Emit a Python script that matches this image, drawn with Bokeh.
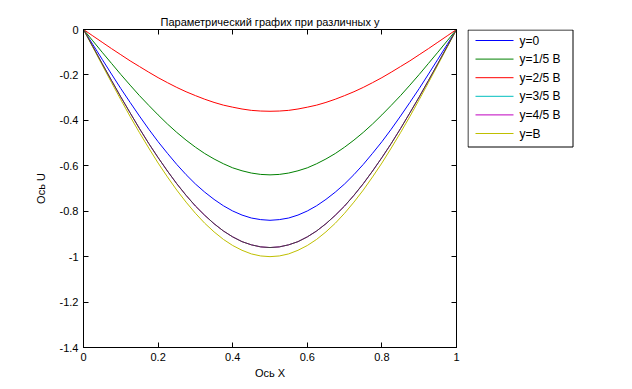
from bokeh.plotting import figure
from bokeh.layouts import row
from bokeh.models import LinearAxis, FixedTicker, Range1d, Title
from bokeh.core.properties import value
from bokeh.embed import file_html
from bokeh.resources import INLINE

x = [0.0, 0.025, 0.05, 0.075, 0.1, 0.125, 0.15, 0.175, 0.2, 0.225, 0.25,
     0.275, 0.3, 0.325, 0.35, 0.375, 0.4, 0.425, 0.45, 0.475, 0.5,
     0.525, 0.55, 0.575, 0.6, 0.625, 0.65, 0.675, 0.7, 0.725, 0.75,
     0.775, 0.8, 0.825, 0.85, 0.875, 0.9, 0.925, 0.95, 0.975, 1.0]

u_y0 = [0, -0.066, -0.131, -0.196, -0.260, -0.321, -0.381, -0.439, -0.494, -0.545, -0.594,
        -0.639, -0.680, -0.716, -0.748, -0.776, -0.799, -0.817, -0.830, -0.837, -0.84,
        -0.837, -0.830, -0.817, -0.799, -0.776, -0.748, -0.716, -0.680, -0.639, -0.594,
        -0.545, -0.494, -0.439, -0.381, -0.321, -0.260, -0.196, -0.131, -0.066, 0]
u_y1 = [0, -0.050, -0.100, -0.149, -0.198, -0.245, -0.291, -0.334, -0.376, -0.416, -0.453,
        -0.487, -0.518, -0.546, -0.570, -0.591, -0.609, -0.622, -0.632, -0.638, -0.64,
        -0.638, -0.632, -0.622, -0.609, -0.591, -0.570, -0.546, -0.518, -0.487, -0.453,
        -0.416, -0.376, -0.334, -0.291, -0.245, -0.198, -0.149, -0.100, -0.050, 0]
u_y2 = [0, -0.028, -0.056, -0.084, -0.111, -0.138, -0.163, -0.188, -0.212, -0.234, -0.255,
        -0.274, -0.291, -0.307, -0.321, -0.333, -0.342, -0.350, -0.356, -0.359, -0.36,
        -0.359, -0.356, -0.350, -0.342, -0.333, -0.321, -0.307, -0.291, -0.274, -0.255,
        -0.234, -0.212, -0.188, -0.163, -0.138, -0.111, -0.084, -0.056, -0.028, 0]
u_y3 = [0, 0, 0, 0, 0, 0, 0, 0, 0, 0, 0, 0, 0, 0, 0, 0, 0, 0, 0, 0, 0,
        0, 0, 0, 0, 0, 0, 0, 0, 0, 0, 0, 0, 0, 0, 0, 0, 0, 0, 0, 0]
u_y4 = [0, -0.075, -0.150, -0.224, -0.297, -0.367, -0.436, -0.502, -0.564, -0.623, -0.679,
        -0.730, -0.777, -0.818, -0.855, -0.887, -0.913, -0.934, -0.948, -0.957, -0.96,
        -0.957, -0.948, -0.934, -0.913, -0.887, -0.855, -0.818, -0.777, -0.730, -0.679,
        -0.623, -0.564, -0.502, -0.436, -0.367, -0.297, -0.224, -0.150, -0.075, 0]
u_y5 = [0, -0.078, -0.156, -0.233, -0.309, -0.383, -0.454, -0.522, -0.588, -0.649, -0.707,
        -0.760, -0.809, -0.853, -0.891, -0.924, -0.951, -0.972, -0.988, -0.997, -1.0,
        -0.997, -0.988, -0.972, -0.951, -0.924, -0.891, -0.853, -0.809, -0.760, -0.707,
        -0.649, -0.588, -0.522, -0.454, -0.383, -0.309, -0.233, -0.156, -0.078, 0]
u_extra = [0, -0.075, -0.150, -0.224, -0.297, -0.367, -0.436, -0.502, -0.564, -0.623, -0.679,
           -0.730, -0.777, -0.818, -0.855, -0.887, -0.913, -0.934, -0.948, -0.957, -0.96,
           -0.957, -0.948, -0.934, -0.913, -0.887, -0.855, -0.818, -0.777, -0.730, -0.679,
           -0.623, -0.564, -0.502, -0.436, -0.367, -0.297, -0.224, -0.150, -0.075, 0]

series_labels = ["y=0", "y=1/5 B", "y=2/5 B", "y=3/5 B", "y=4/5 B", "y=B"]
series_values = [u_y0, u_y1, u_y2, u_y3, u_y4, u_y5]
series_colors = ["#0000ff", "#008000", "#ff0000", "#00bfbf", "#bf00bf", "#bfbf00"]

x_ticks = [0, 0.2, 0.4, 0.6, 0.8, 1.0]
x_tick_labels = ["0", "0.2", "0.4", "0.6", "0.8", "1"]
y_ticks = [-1.4, -1.2, -1.0, -0.8, -0.6, -0.4, -0.2, 0]
y_tick_labels = ["-1.4", "-1.2", "-1", "-0.8", "-0.6", "-0.4", "-0.2", "0"]

FONT = "Liberation Sans"
FS = "11px"

p = figure(frame_width=373, frame_height=318, output_backend="svg", toolbar_location=None,
           x_range=Range1d(0, 1), y_range=Range1d(-1.4, 0),
           min_border_left=83, min_border_right=11, min_border_top=29, min_border_bottom=42,
           x_axis_location=None, y_axis_location=None)
p.background_fill_color = "white"
p.border_fill_color = "white"
p.outline_line_color = "black"
p.xgrid.visible = False
p.ygrid.visible = False

def make_axis(ticks, labels, show_labels, label_text=None, label_standoff=6, hidden_standoff=0):
    ax = LinearAxis(ticker=FixedTicker(ticks=ticks))
    ax.major_label_overrides = {t: l for t, l in zip(ticks, labels)}
    ax.major_tick_in = 5
    ax.major_tick_out = 0
    ax.minor_tick_line_color = None
    ax.axis_line_color = "black"
    ax.major_tick_line_color = "black"
    ax.major_label_text_font = FONT
    ax.major_label_text_font_size = FS
    ax.major_label_text_color = "black"
    ax.major_label_standoff = 5
    if not show_labels:
        ax.major_label_text_alpha = 0
        ax.major_label_text_font_size = "1px"
        ax.major_label_standoff = hidden_standoff
    if label_text:
        ax.axis_label = label_text
        ax.axis_label_text_font = FONT
        ax.axis_label_text_font_size = FS
        ax.axis_label_text_font_style = "normal"
        ax.axis_label_text_color = "black"
        ax.axis_label_standoff = label_standoff
    return ax

p.add_layout(make_axis(x_ticks, x_tick_labels, True, "Ось X", 3), "below")
p.add_layout(make_axis(y_ticks, y_tick_labels, True, "Ось U", 10), "left")
p.add_layout(make_axis(x_ticks, x_tick_labels, False, hidden_standoff=4), "above")
p.add_layout(make_axis(y_ticks, y_tick_labels, False), "right")

for vals, col in zip(series_values, series_colors):
    p.line(x, vals, line_color=col, line_width=1)
p.line(x, u_extra, line_color="#404040", line_width=1)

p.add_layout(Title(text="Параметрический графих при различных y", align="center",
                   text_font=FONT, text_font_size=FS, text_font_style="normal",
                   text_color="black", offset=0, standoff=4), "above")

# legend panel: a pixel-scaled figure to the right of the plot
LW, LH = 165, 318
lg = figure(width=LW, height=389, output_backend="svg", toolbar_location=None,
            x_range=Range1d(0, LW), y_range=Range1d(0, LH),
            min_border_left=0, min_border_right=0, min_border_top=29, min_border_bottom=42,
            x_axis_location=None, y_axis_location=None)
lg.outline_line_color = None
lg.xgrid.visible = False
lg.ygrid.visible = False
lg.background_fill_color = "white"
lg.border_fill_color = "white"

box_w, box_h = 105.5, 117
lg.quad(left=[0.5], right=[box_w], top=[LH - 0.5], bottom=[LH - 0.5 - box_h],
        fill_color="white", line_color="black", line_width=1)
row_y = [LH - 11 - i * 18.6 for i in range(len(series_labels))]
lg.segment(x0=[8] * len(row_y), x1=[46] * len(row_y), y0=row_y, y1=row_y,
           line_color=series_colors, line_width=1)
lg.text(x=[52] * len(row_y), y=row_y, text=series_labels,
        text_font=value(FONT), text_font_size="12px", text_color="black",
        text_baseline="middle", text_align="left")

layout = row(p, lg, spacing=0)
open("out.html", "w").write(file_html(layout, INLINE))
